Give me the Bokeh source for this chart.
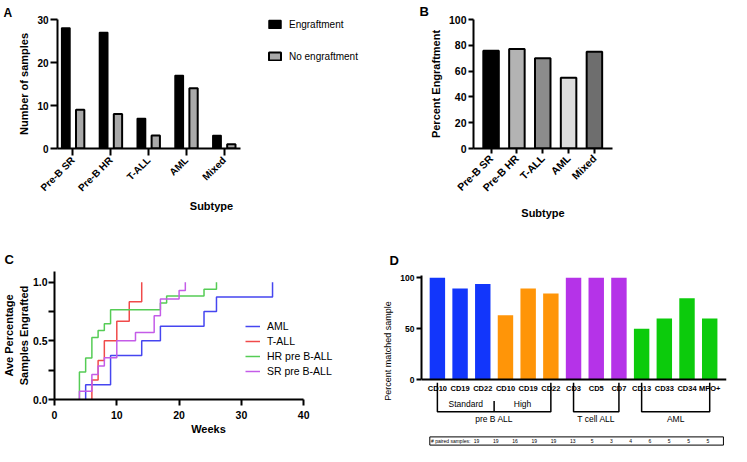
import math
from bokeh.plotting import figure
from bokeh.models import Range1d, FixedTicker, Legend, LegendItem
from bokeh.layouts import row, column
from bokeh.embed import file_html
from bokeh.resources import INLINE
from bokeh.core.properties import value

FONT = "Liberation Sans"

# ---------------- data ----------------
# Panel A
subtypes = ["Pre-B SR", "Pre-B HR", "T-ALL", "AML", "Mixed"]
engraft = [28, 27, 7, 17, 3]
no_engraft = [9, 8, 3, 14, 1]
# Panel B
pct_engraft = [75.7, 77.1, 70.0, 54.8, 75.0]
# Panel C (weeks at which each step occurs, cumulative fraction engrafted)
aml_weeks = [5, 9, 14, 17, 24, 26, 35]
aml_frac = [0.125, 0.375, 0.5, 0.625, 0.75, 0.875, 1.0]
tall_weeks = [6, 7, 8, 10, 12, 14]
tall_frac = [0.167, 0.333, 0.5, 0.667, 0.833, 1.0]
hr_weeks = [4, 5, 6, 7, 8, 9, 17, 18, 24, 26]
hr_frac = [0.235, 0.353, 0.529, 0.588, 0.647, 0.765, 0.824, 0.882, 0.941, 1.0]
sr_weeks = [4, 6, 7, 8, 10, 13, 16, 17, 20, 21]
sr_frac = [0.071, 0.214, 0.286, 0.357, 0.5, 0.571, 0.714, 0.857, 0.929, 1.0]
c_series = ["AML", "T-ALL", "HR pre B-ALL", "SR pre B-ALL"]
# Panel D
markers = ["CD10", "CD19", "CD22", "CD10", "CD19", "CD22", "CD3", "CD5", "CD7",
           "CD13", "CD33", "CD34", "MPO+"]
matched = [100, 89.5, 93.8, 63.2, 89.5, 84.6, 100, 100, 100, 50, 60, 80, 60]
paired = [19, 19, 16, 19, 19, 13, 5, 3, 4, 6, 5, 5, 5]
disease = ["pre B ALL"] * 6 + ["T cell ALL"] * 3 + ["AML"] * 4
risk = ["Standard"] * 3 + ["High"] * 3 + [""] * 7

# ---------------- styles ----------------
B_COLORS = ["#000000", "#b3b3b3", "#8c8c8c", "#dddddd", "#6e6e6e"]
C_COLORS = ["#4646f0", "#f04a4a", "#55cc55", "#c45ce8"]
D_COLOR = {"Standard": "#1236fb", "High": "#ff9508", "T cell ALL": "#b533e8", "AML": "#0ccb0c"}


def base(p, tick_out=5):
    p.grid.visible = False
    p.outline_line_color = None
    p.background_fill_color = "white"
    p.border_fill_color = "white"
    for ax in p.axis:
        ax.axis_line_width = 2
        ax.axis_line_color = "black"
        ax.major_tick_line_width = 2
        ax.major_tick_out = tick_out
        ax.major_tick_in = 0
        ax.minor_tick_out = 0
        ax.minor_tick_in = 0
        ax.major_label_text_font = FONT
        ax.major_label_text_font_style = "bold"
        ax.major_label_text_color = "black"
        ax.axis_label_text_font = FONT
        ax.axis_label_text_font_style = "bold"
        ax.axis_label_text_color = "black"
        ax.axis_label_text_font_size = "11px"


def panel_letter(p, txt, offset, standoff, size="13px"):
    p.title.text = txt
    p.title.align = "left"
    p.title.offset = offset
    p.title.standoff = standoff
    p.title.text_font = FONT
    p.title.text_font_style = "bold"
    p.title.text_font_size = size
    p.title.text_color = "black"


def legend(items, loc, spacing, size, label_h=14):
    return Legend(items=items, location=loc, glyph_width=15, glyph_height=10,
                  label_height=label_h, label_standoff=7, spacing=spacing, padding=0, margin=0,
                  border_line_color=None, background_fill_alpha=0,
                  label_text_font=FONT, label_text_font_size=size, label_text_color="black")


xs = list(range(len(subtypes)))

# ---------------- Panel A ----------------
pA = figure(width=372, height=223, x_range=Range1d(-0.41, 7.74), y_range=Range1d(0, 30),
            output_backend="svg", toolbar_location=None,
            min_border_left=57, min_border_right=7, min_border_top=15, min_border_bottom=75)
rA1 = pA.vbar(x=[i - 0.19 for i in xs], top=engraft, width=0.22,
              fill_color="black", line_color="black", line_width=1.5)
rA2 = pA.vbar(x=[i + 0.19 for i in xs], top=no_engraft, width=0.22,
              fill_color="#a9a9a9", line_color="black", line_width=2)
base(pA, tick_out=7)
pA.xaxis.bounds = (-0.41, 4.44)
pA.xaxis.ticker = FixedTicker(ticks=xs)
pA.xaxis.major_label_overrides = {i: s for i, s in enumerate(subtypes)}
pA.xaxis.major_label_orientation = math.pi / 4
pA.xaxis.major_label_text_font_size = "10px"
pA.xaxis.major_label_standoff = 3
pA.yaxis.major_label_text_font_size = "10px"
pA.yaxis.major_label_standoff = 2
pA.yaxis.ticker = FixedTicker(ticks=[0, 10, 20, 30])
pA.xaxis.axis_label = "Subtype"
pA.yaxis.axis_label = "Number of samples"
pA.yaxis.axis_label_standoff = 4
pA.xaxis.axis_label_standoff = 0
pA.add_layout(legend([LegendItem(label="Engraftment", renderers=[rA1]),
                      LegendItem(label="No engraftment", renderers=[rA2])],
                     (210, 86), 20, "10px", label_h=12), "center")
panel_letter(pA, "A", -54, 0, "12px")

# ---------------- Panel B ----------------
pB = figure(width=359, height=223, x_range=Range1d(-0.68, 4.70), y_range=Range1d(0, 100),
            output_backend="svg", toolbar_location=None,
            min_border_left=101, min_border_right=119, min_border_top=17, min_border_bottom=68)
pB.vbar(x=xs, top=pct_engraft, width=0.6, fill_color=B_COLORS, line_color="black", line_width=2)
base(pB, tick_out=5)
pB.xaxis.ticker = FixedTicker(ticks=xs)
pB.xaxis.major_label_overrides = {i: s for i, s in enumerate(subtypes)}
pB.xaxis.major_label_orientation = math.pi / 4
pB.xaxis.major_label_text_font_size = "10.5px"
pB.xaxis.major_label_standoff = 3
pB.yaxis.major_label_text_font_size = "10.5px"
pB.yaxis.major_label_standoff = 2
pB.yaxis.ticker = FixedTicker(ticks=[0, 20, 40, 60, 80, 100])
pB.xaxis.axis_label = "Subtype"
pB.yaxis.axis_label = "Percent Engraftment"
pB.yaxis.axis_label_standoff = 4
pB.xaxis.axis_label_standoff = 6
panel_letter(pB, "B", -54, 2)

# ---------------- Panel C ----------------
pC = figure(width=372, height=223, x_range=Range1d(0, 49.44), y_range=Range1d(0, 1.0916),
            output_backend="svg", toolbar_location=None,
            min_border_left=53, min_border_right=10, min_border_top=48, min_border_bottom=47)
c_data = [(aml_weeks, aml_frac), (tall_weeks, tall_frac), (hr_weeks, hr_frac), (sr_weeks, sr_frac)]
c_items = []
for name, (wk, fr), col in zip(c_series, c_data, C_COLORS):
    r = pC.step(x=[wk[0]] + wk, y=[0] + fr, mode="after", line_color=col, line_width=1.5)
    c_items.append(LegendItem(label=name, renderers=[r]))
base(pC, tick_out=6)
pC.xaxis.bounds = (0, 40)
pC.xaxis.ticker = FixedTicker(ticks=[0, 10, 20, 30, 40])
pC.yaxis.ticker = FixedTicker(ticks=[0, 0.25, 0.5, 0.75, 1.0])
pC.yaxis.major_label_overrides = {0: "0.0", 0.25: "", 0.5: "0.5", 0.75: "", 1: "1.0"}
pC.xaxis.major_label_text_font_size = "10.5px"
pC.yaxis.major_label_text_font_size = "10.5px"
pC.yaxis.major_label_standoff = 1
pC.yaxis.axis_label = "Ave Percentage\nSamples Engrafted"
pC.yaxis.axis_label_standoff = 0
pC.xaxis.axis_label = "Weeks"
pC.xaxis.axis_label_standoff = 1
pC.add_layout(legend(c_items, (191, 21), 1, "10.5px"), "center")
panel_letter(pC, "C", -50, 9)

# ---------------- Panel D ----------------
nD = len(markers)
dx = list(range(nD))
d_cols = [D_COLOR[r] if r else D_COLOR[d] for r, d in zip(risk, disease)]
pD = figure(width=359, height=205, x_range=Range1d(-0.7, 12.74), y_range=Range1d(-47.7, 104.2),
            output_backend="svg", toolbar_location=None,
            min_border_left=49, min_border_right=5, min_border_top=50, min_border_bottom=0)
pD.vbar(x=dx, top=matched, width=0.68, fill_color=d_cols, line_color=None)
base(pD, tick_out=5)
pD.yaxis.bounds = (0, 102)
pD.yaxis.ticker = FixedTicker(ticks=[0, 50, 100])
pD.yaxis.major_label_text_font_size = "8.5px"
pD.yaxis.major_label_standoff = 2
pD.yaxis.axis_label = "Percent matched sample"
pD.yaxis.axis_label_text_font_style = "normal"
pD.yaxis.axis_label_text_font_size = "9px"
pD.yaxis.axis_label_standoff = 4
pD.xaxis.fixed_location = 0
pD.xaxis.ticker = FixedTicker(ticks=dx)
pD.xaxis.major_label_overrides = {i: m for i, m in enumerate(markers)}
pD.xaxis.major_tick_out = 0
pD.xaxis.major_label_text_font_size = "7.5px"
pD.xaxis.major_label_standoff = 4

# brackets grouping the markers
y_top, y_bot, y_div, y_sub, y_grp = -2.8, -31.3, -20.8, -24.0, -38.2
bx, by = [], []
labels_x, labels_y, labels_t = [], [], []
for g in ["pre B ALL", "T cell ALL", "AML"]:
    idx = [i for i, d in enumerate(disease) if d == g]
    a, b = idx[0], idx[-1]
    bx.append([a, a, b, b])
    by.append([y_top, y_bot, y_bot, y_top])
    labels_x.append((a + b) / 2)
    labels_y.append(y_grp)
    labels_t.append(g)
    subs = [r for r in dict.fromkeys(risk[a:b + 1]) if r]
    if subs:
        ends = [max(i for i in idx if risk[i] == s) for s in subs]
        div = ends[0] + 0.5
        bx.append([div, div])
        by.append([y_div, y_bot])
        labels_x += [(a + div) / 2, (div + b) / 2]
        labels_y += [y_sub, y_sub]
        labels_t += subs
pD.multi_line(xs=bx, ys=by, line_color="black", line_width=1.5)
pD.text(x=labels_x, y=labels_y, text=labels_t, text_font=value(FONT), text_font_size="8.5px",
        text_align="center", text_baseline="middle", text_color="black")
panel_letter(pD, "D", -32, 12)

# ---------------- Table under D ----------------
pT = figure(width=359, height=18, x_range=Range1d(-2.851, 12.969), y_range=Range1d(0, 18),
            output_backend="svg", toolbar_location=None,
            min_border_left=0, min_border_right=0, min_border_top=0, min_border_bottom=0)
pT.axis.visible = False
pT.grid.visible = False
pT.outline_line_color = None
pT.quad(left=[-2.42], right=[12.81], bottom=[1.4], top=[9.6], fill_color=None,
        line_color="black", line_width=1)
pT.text(x=[-2.36], y=[5.5], text=["# paired samples:"], text_font=value(FONT),
        text_font_size="5px", text_baseline="middle", text_align="left")
pT.text(x=dx, y=[5.5] * nD, text=[str(v) for v in paired], text_font=value(FONT),
        text_font_size="5px", text_baseline="middle", text_align="center")

layout = column(row(pA, pB), row(pC, column(pD, pT)))
open("out.html", "w").write(file_html(layout, INLINE))
